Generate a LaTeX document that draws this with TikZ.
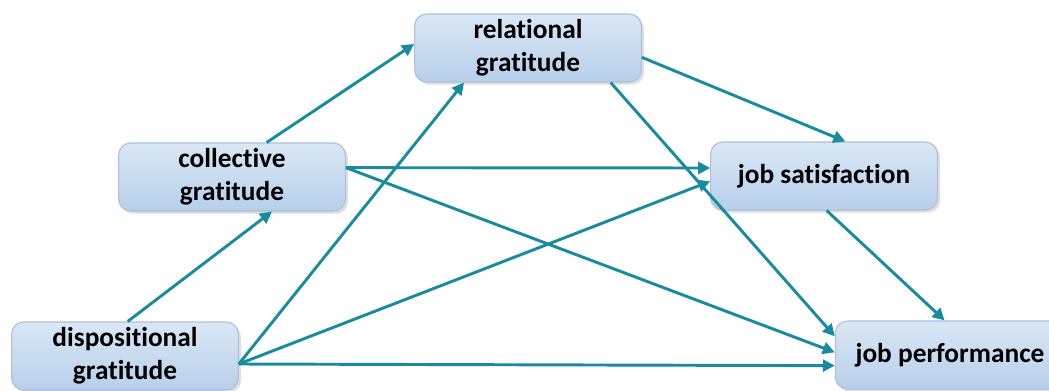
\documentclass[tikz,border=0pt]{standalone}
\usepackage{fontspec}
\setmainfont{Carlito}[Ligatures=NoCommon]
\usetikzlibrary{arrows.meta,shadows}

\definecolor{linkteal}{RGB}{26,138,158}
\definecolor{boxtop}{RGB}{218,231,245}
\definecolor{boxbottom}{RGB}{184,207,234}
\definecolor{boxedge}{RGB}{170,192,220}

\begin{document}
\begin{tikzpicture}[x=0.75pt, y=0.75pt,
  box/.style={rectangle, rounded corners=9pt, draw=boxedge, line width=0.8pt,
    top color=boxtop, bottom color=boxbottom,
    drop shadow={shadow xshift=2pt, shadow yshift=-2pt, opacity=0.25},
    minimum width=170pt, minimum height=51pt, inner sep=2pt, align=center,
    font=\fontsize{20.5}{24.5}\selectfont\bfseries},
  link/.style={draw=linkteal, line width=2.2pt,
    -{Triangle[length=9pt, width=9pt]}}]

\useasboundingbox (0,0) rectangle (1049,390);

\node[box](disp) at (125,34) {dispositional\\gratitude};
\node[box](coll) at (232,213) {collective\\gratitude};
\node[box](rel) at (528,342) {relational\\gratitude};
\node[box](js) at (824,214) {job satisfaction};
\node[box, minimum width=172pt](jp) at (950,35) {job performance};

\draw[link] ([xshift=2]disp.north) -- ([xshift=30]coll.south);
\draw[link] ([xshift=26]coll.north) -- ([yshift=3]rel.west);
\draw[link] ([yshift=-6]disp.east) -- ([xshift=-48]rel.south);
\draw[link] ([yshift=-6]disp.east) -- ([yshift=-4]js.west);
\draw[link] ([yshift=-6]disp.east) -- ([yshift=-8]jp.west);
\draw[link] ([yshift=7]coll.east) -- ([yshift=6]js.west);
\draw[link] ([yshift=7]coll.east) -- ([yshift=2]jp.west);
\draw[link] ([yshift=-7]rel.east) -- ([xshift=16]js.north);
\draw[link] ([xshift=62]rel.south) -- ([yshift=14]jp.west);
\draw[link] ([xshift=2]js.south) -- ([xshift=-4]jp.north);

\end{tikzpicture}
\end{document}
